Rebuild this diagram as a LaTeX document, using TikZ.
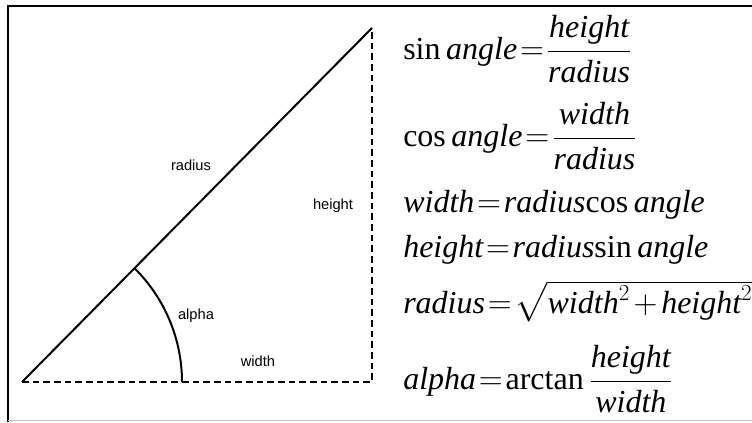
\documentclass[tikz,border=0pt]{standalone}
\usepackage{amsmath}
\usepackage{fontspec}
\setmainfont{Liberation Serif}
\newfontfamily\labelfont{Liberation Sans}
\usetikzlibrary{positioning}
\definecolor{FrameGray}{HTML}{C4C4C4}
\thickmuskip=1.5mu
\medmuskip=2mu

\begin{document}
\begin{tikzpicture}[x=0.75pt,y=0.75pt,
    side/.style={line width=1.5pt,dash pattern=on 5pt off 3pt},
    lbl/.style={font=\labelfont\fontsize{11}{13}\selectfont},
    eq/.style={anchor=west,inner sep=0pt,font=\fontsize{24}{28}\selectfont}]
  \useasboundingbox (0,0) rectangle (752,422);
  \draw[line width=2.2pt] (752,416) -- (8,416) -- (8,0);
  \draw[FrameGray,line width=1pt] (8,1.5) -- (752,1.5);
  \coordinate (A) at (22,40);
  \coordinate (B) at (372,40);
  \coordinate (C) at (372,394);
  \coordinate (arcstart) at (182,40);
  \draw[side] (A) -- (B) -- (C);
  \draw[line width=1.5pt] (A) -- (C);
  \draw[line width=1.5pt] (arcstart) arc[start angle=0,end angle=45.33,radius=160];
  \node[lbl] (radiuslbl) at (191,257) {radius};
  \node[lbl] (heightlbl) at (333,216) {height};
  \node[lbl] (alphalbl) at (196,106) {alpha};
  \node[lbl] (widthlbl) at (258,61) {width};
  \node[eq] (sineq) at (403,373) {$\sin\mathit{angle}=\dfrac{\mathit{height}}{\mathit{radius}}$};
  \node[eq] (coseq) at (403,286) {$\cos\mathit{angle}=\dfrac{\mathit{width}}{\mathit{radius}}$};
  \node[eq] (widtheq) at (403,217) {$\mathit{width}=\mathit{radius}\mathrm{cos}\,\mathit{angle}$};
  \node[eq] (heighteq) at (403,172) {$\mathit{height}=\mathit{radius}\mathrm{sin}\,\mathit{angle}$};
  \node[eq] (radiuseq) at (403,121) {$\mathit{radius}=\sqrt{\mathit{width}^2+\mathit{height}^2}$};
  \node[eq] (alphaeq) at (403,43) {$\mathit{alpha}=\arctan\dfrac{\mathit{height}}{\mathit{width}}$};
\end{tikzpicture}
\end{document}
